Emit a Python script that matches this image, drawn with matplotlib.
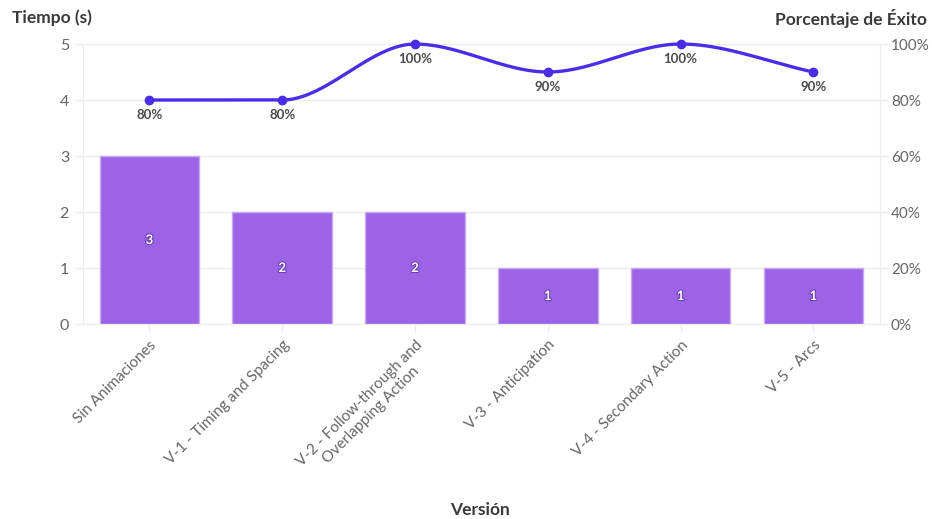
import numpy as np
import matplotlib.pyplot as plt
import matplotlib.patheffects as pe
from matplotlib.ticker import FuncFormatter

plt.rcParams['font.family'] = ['Lato', 'DejaVu Sans']

versions = [
    "Sin Animaciones",
    "V-1 - Timing and Spacing",
    "V-2 - Follow-through and\nOverlapping Action",
    "V-3 - Anticipation",
    "V-4 - Secondary Action",
    "V-5 - Arcs",
]
tiempo = [3, 2, 2, 1, 1, 1]
exito = [80, 80, 100, 90, 100, 90]

bar_color = "#9d63e6"
bar_edge = "#c9a9f2"
line_color = "#4a2de6"
grid_color = "#ececec"
tick_color = "#666666"
title_color = "#3a3a3a"


def monotone_curve(xs, ys, n=40):
    # Fritsch-Carlson monotone cubic, only used to draw the smooth line
    xs = np.asarray(xs, float)
    ys = np.asarray(ys, float)
    h = np.diff(xs)
    d = np.diff(ys) / h
    m = np.zeros_like(ys)
    m[0], m[-1] = d[0], d[-1]
    for i in range(1, len(ys) - 1):
        if d[i - 1] * d[i] <= 0:
            m[i] = 0
        else:
            m[i] = 3 * (h[i - 1] + h[i]) / ((2 * h[i] + h[i - 1]) / d[i - 1] + (h[i] + 2 * h[i - 1]) / d[i])
    px, py = [], []
    for i in range(len(xs) - 1):
        t = np.linspace(0, 1, n)
        h00 = 2 * t**3 - 3 * t**2 + 1
        h10 = t**3 - 2 * t**2 + t
        h01 = -2 * t**3 + 3 * t**2
        h11 = t**3 - t**2
        px.extend(xs[i] + t * h[i])
        py.extend(h00 * ys[i] + h10 * h[i] * m[i] + h01 * ys[i + 1] + h11 * h[i] * m[i + 1])
    return np.array(px), np.array(py)


fig = plt.figure(figsize=(9.32, 5.19), dpi=100)
ax = fig.add_axes([0.089, 0.3757, 0.855, 0.5395])
ax2 = ax.twinx()

x = np.arange(len(versions))
bars = ax.bar(x, tiempo, width=0.75, color=bar_color, edgecolor=bar_edge, linewidth=1, zorder=2)
for xi, v in zip(x, tiempo):
    ax.text(xi, v / 2, str(v), ha='center', va='center', color='white', fontsize=9.5,
            fontweight='bold', zorder=3,
            path_effects=[pe.withStroke(linewidth=1.5, foreground='#6a3fb0')])

ax.set_xlim(-0.5, len(versions) - 0.5)
ax.set_ylim(0, 5)
ax.set_yticks(range(6))
ax.set_xticks(x)
ax.set_xticklabels(versions, rotation=45, ha='right', rotation_mode='anchor',
                   fontsize=11, color=tick_color, multialignment='center')
ax.tick_params(axis='y', labelsize=11.5, colors=tick_color, length=6, width=1, color=grid_color, pad=4)
ax.tick_params(axis='x', length=6, width=1, color=grid_color, pad=4)
ax.grid(axis='y', color=grid_color, linewidth=1, zorder=0)
ax.set_axisbelow(True)
for s in ['top', 'right']:
    ax.spines[s].set_visible(False)
ax.spines['left'].set_color(grid_color)
ax.spines['bottom'].set_color(grid_color)

cx, cy = monotone_curve(x, exito)
ax2.plot(cx, cy, color=line_color, linewidth=2.4, zorder=4, solid_capstyle='round', clip_on=False)
ax2.plot(x, exito, 'o', color=line_color, markersize=6, zorder=5, clip_on=False)
for xi, v in zip(x, exito):
    ax2.annotate(f"{v}%", (xi, v), xytext=(0, -11), textcoords='offset points',
                 ha='center', va='center', fontsize=9.5, fontweight='bold', color='#4a4a4a')
ax2.set_ylim(0, 100)
ax2.set_yticks(range(0, 101, 20))
ax2.yaxis.set_major_formatter(FuncFormatter(lambda v, p: f"{int(v)}%"))
ax2.tick_params(axis='y', labelsize=11, colors=tick_color, length=6, width=1, color=grid_color, pad=2)
for s in ['top', 'left', 'bottom']:
    ax2.spines[s].set_visible(False)
ax2.spines['right'].set_color(grid_color)

fig.text(0.013, 0.965, "Tiempo (s)", fontsize=12.5, fontweight='bold', color=title_color, va='center')
fig.text(0.994, 0.965, "Porcentaje de Éxito", fontsize=12.5, fontweight='bold', color=title_color,
         va='center', ha='right')
fig.text(0.515, 0.017, "Versión", fontsize=12.5, fontweight='bold', color=title_color,
         va='center', ha='center')

fig.savefig("out.png", dpi=100)
